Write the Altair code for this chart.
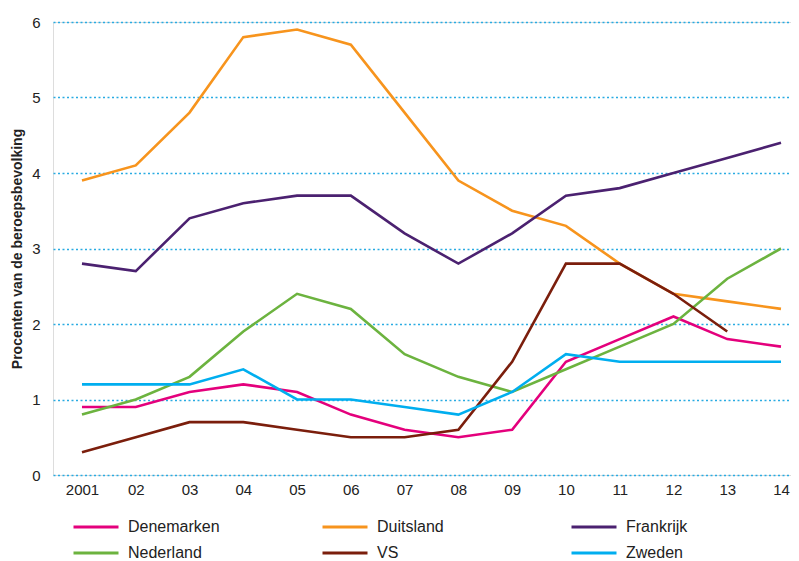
import altair as alt
import pandas as pd

years = list(range(2001, 2015))
tick_labels = ["2001", "02", "03", "04", "05", "06", "07", "08", "09", "10", "11", "12", "13", "14"]

denemarken = [0.9, 0.9, 1.1, 1.2, 1.1, 0.8, 0.6, 0.5, 0.6, 1.5, 1.8, 2.1, 1.8, 1.7]
duitsland = [3.9, 4.1, 4.8, 5.8, 5.9, 5.7, 4.8, 3.9, 3.5, 3.3, 2.8, 2.4, 2.3, 2.2]
frankrijk = [2.8, 2.7, 3.4, 3.6, 3.7, 3.7, 3.2, 2.8, 3.2, 3.7, 3.8, 4.0, 4.2, 4.4]
nederland = [0.8, 1.0, 1.3, 1.9, 2.4, 2.2, 1.6, 1.3, 1.1, 1.4, 1.7, 2.0, 2.6, 3.0]
vs = [0.3, 0.5, 0.7, 0.7, 0.6, 0.5, 0.5, 0.6, 1.5, 2.8, 2.8, 2.4, 1.9]
zweden = [1.2, 1.2, 1.2, 1.4, 1.0, 1.0, 0.9, 0.8, 1.1, 1.6, 1.5, 1.5, 1.5, 1.5]

series_names = ["Denemarken", "Duitsland", "Frankrijk", "Nederland", "VS", "Zweden"]
series_values = [denemarken, duitsland, frankrijk, nederland, vs, zweden]
series_colors = ["#E4007C", "#F7941D", "#4B2170", "#6CB33F", "#7B1E0C", "#00AEEF"]

rows = []
for name, vals in zip(series_names, series_values):
    for y, v in zip(years, vals):
        rows.append({"jaar": y, "land": name, "waarde": v})
df = pd.DataFrame(rows)

label_map = "{" + ",".join(f"'{y}':'{t}'" for y, t in zip(years, tick_labels)) + "}"

FONT = "Liberation Sans"

chart = alt.Chart(df).mark_line(strokeWidth=2.6, strokeJoin="miter").encode(
    x=alt.X("jaar:Q",
            scale=alt.Scale(domain=[2000.461, 2014.186], nice=False, zero=False),
            axis=alt.Axis(values=years, grid=False, domain=False, ticks=False,
                          labelExpr=f"{label_map}[toString(datum.value)]",
                          labelFontSize=15, labelColor="#222222", labelFont=FONT,
                          labelPadding=7, title=None, labelFlush=False)),
    y=alt.Y("waarde:Q",
            scale=alt.Scale(domain=[0, 6], nice=False),
            axis=alt.Axis(values=[0, 1, 2, 3, 4, 5, 6], format="d", grid=True,
                          gridColor="#29ABE2", gridDash=[2, 2.5], gridWidth=1.6,
                          domain=False, ticks=False, labelPadding=13,
                          labelFontSize=15, labelColor="#222222", labelFont=FONT,
                          title="Procenten van de beroepsbevolking",
                          titleFont=FONT, titleFontSize=14, titleFontWeight="bold",
                          titleColor="#222222", titlePadding=7)),
    color=alt.Color("land:N",
                    scale=alt.Scale(domain=series_names, range=series_colors),
                    legend=alt.Legend(title=None, orient="none", legendX=34, legendY=496,
                                      columns=3, direction="horizontal",
                                      symbolType="M-3,0H3", symbolSize=225,
                                      symbolStrokeWidth=3, labelOffset=23,
                                      labelFontSize=16, labelFont=FONT, labelColor="#222222",
                                      columnPadding=96, rowPadding=9, gridAlign="all",
                                      padding=0, labelLimit=300)),
).properties(
    width=738, height=453,
    autosize=alt.AutoSizeParams(type="none"),
    padding={"left": 45, "top": 14, "right": 0, "bottom": 86},
).configure_view(stroke=None).configure(background="white")

chart.save("out.html", embed_options={"renderer": "svg", "actions": False})
